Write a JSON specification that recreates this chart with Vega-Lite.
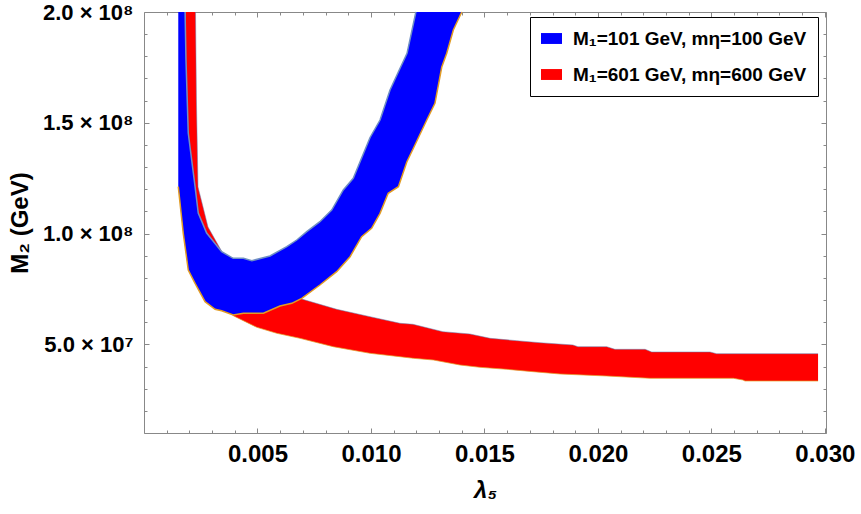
{
  "$schema": "https://vega.github.io/schema/vega-lite/v6.json",
  "width": 682,
  "height": 421,
  "autosize": {"type": "none"},
  "padding": {"left": 144, "top": 12, "right": 35, "bottom": 81},
  "background": "white",
  "config": {
    "view": {"stroke": "#888888", "strokeWidth": 1},
    "axis": {"grid": false, "domain": false, "tickColor": "#888888", "tickWidth": 1, "labelFont": "Liberation Sans", "labelFontWeight": "bold", "labelColor": "black", "titleFont": "Liberation Sans", "titleFontWeight": "bold", "titleColor": "black"}
  },
  "datasets": {
    "poly": [
      {"k": "b", "i": 1, "x": 0.00151, "y": 200000000},
      {"k": "b", "i": 2, "x": 0.00181, "y": 200000000},
      {"k": "b", "i": 3, "x": 0.00185, "y": 178340000},
      {"k": "b", "i": 4, "x": 0.00195, "y": 145390000},
      {"k": "b", "i": 5, "x": 0.00225, "y": 121160000},
      {"k": "b", "i": 6, "x": 0.00239, "y": 109290000},
      {"k": "b", "i": 7, "x": 0.00276, "y": 100260000},
      {"k": "b", "i": 8, "x": 0.00342, "y": 91820000},
      {"k": "b", "i": 9, "x": 0.00393, "y": 88840000},
      {"k": "b", "i": 10, "x": 0.00438, "y": 88840000},
      {"k": "b", "i": 11, "x": 0.00475, "y": 87760000},
      {"k": "b", "i": 12, "x": 0.00555, "y": 89880000},
      {"k": "b", "i": 13, "x": 0.00629, "y": 94080000},
      {"k": "b", "i": 14, "x": 0.00673, "y": 97100000},
      {"k": "b", "i": 15, "x": 0.00717, "y": 100850000},
      {"k": "b", "i": 16, "x": 0.00775, "y": 105360000},
      {"k": "b", "i": 17, "x": 0.00827, "y": 110640000},
      {"k": "b", "i": 18, "x": 0.00878, "y": 119670000},
      {"k": "b", "i": 19, "x": 0.00922, "y": 124950000},
      {"k": "b", "i": 20, "x": 0.00996, "y": 143360000},
      {"k": "b", "i": 21, "x": 0.0104, "y": 151260000},
      {"k": "b", "i": 22, "x": 0.01084, "y": 164800000},
      {"k": "b", "i": 23, "x": 0.01121, "y": 173060000},
      {"k": "b", "i": 24, "x": 0.01159, "y": 181360000},
      {"k": "b", "i": 25, "x": 0.01198, "y": 200000000},
      {"k": "b", "i": 26, "x": 0.014, "y": 200000000},
      {"k": "b", "i": 27, "x": 0.01363, "y": 191880000},
      {"k": "b", "i": 28, "x": 0.01334, "y": 181360000},
      {"k": "b", "i": 29, "x": 0.01312, "y": 175180000},
      {"k": "b", "i": 30, "x": 0.01282, "y": 158800000},
      {"k": "b", "i": 31, "x": 0.01246, "y": 151260000},
      {"k": "b", "i": 32, "x": 0.01187, "y": 138490000},
      {"k": "b", "i": 33, "x": 0.01158, "y": 132300000},
      {"k": "b", "i": 34, "x": 0.01121, "y": 121160000},
      {"k": "b", "i": 35, "x": 0.01076, "y": 118180000},
      {"k": "b", "i": 36, "x": 0.0104, "y": 109150000},
      {"k": "b", "i": 37, "x": 0.01003, "y": 102380000},
      {"k": "b", "i": 38, "x": 0.00959, "y": 98590000},
      {"k": "b", "i": 39, "x": 0.00908, "y": 89570000},
      {"k": "b", "i": 40, "x": 0.00849, "y": 82800000},
      {"k": "b", "i": 41, "x": 0.00775, "y": 76790000},
      {"k": "b", "i": 42, "x": 0.00695, "y": 70790000},
      {"k": "b", "i": 43, "x": 0.00651, "y": 68530000},
      {"k": "b", "i": 44, "x": 0.00599, "y": 67320000},
      {"k": "b", "i": 45, "x": 0.00526, "y": 64020000},
      {"k": "b", "i": 46, "x": 0.00438, "y": 64020000},
      {"k": "b", "i": 47, "x": 0.00393, "y": 63250000},
      {"k": "b", "i": 48, "x": 0.00342, "y": 65200000},
      {"k": "b", "i": 49, "x": 0.00313, "y": 65830000},
      {"k": "b", "i": 50, "x": 0.00269, "y": 69260000},
      {"k": "b", "i": 51, "x": 0.00225, "y": 77560000},
      {"k": "b", "i": 52, "x": 0.00195, "y": 83560000},
      {"k": "b", "i": 53, "x": 0.00173, "y": 100130000},
      {"k": "b", "i": 54, "x": 0.00151, "y": 121160000},
      {"k": "r", "i": 1, "x": 0.00183, "y": 200000000},
      {"k": "r", "i": 2, "x": 0.00227, "y": 200000000},
      {"k": "r", "i": 3, "x": 0.00231, "y": 160290000},
      {"k": "r", "i": 4, "x": 0.00238, "y": 121020000},
      {"k": "r", "i": 5, "x": 0.00282, "y": 102970000},
      {"k": "r", "i": 6, "x": 0.00344, "y": 91690000},
      {"k": "r", "i": 7, "x": 0.00423, "y": 85820000},
      {"k": "r", "i": 8, "x": 0.00555, "y": 76790000},
      {"k": "r", "i": 9, "x": 0.00687, "y": 70700000},
      {"k": "r", "i": 10, "x": 0.00849, "y": 65830000},
      {"k": "r", "i": 11, "x": 0.00996, "y": 62490000},
      {"k": "r", "i": 12, "x": 0.01128, "y": 59510000},
      {"k": "r", "i": 13, "x": 0.01185, "y": 59060000},
      {"k": "r", "i": 14, "x": 0.01317, "y": 55720000},
      {"k": "r", "i": 15, "x": 0.01436, "y": 54680000},
      {"k": "r", "i": 16, "x": 0.01525, "y": 52740000},
      {"k": "r", "i": 17, "x": 0.01642, "y": 51660000},
      {"k": "r", "i": 18, "x": 0.01745, "y": 50750000},
      {"k": "r", "i": 19, "x": 0.0189, "y": 49720000},
      {"k": "r", "i": 20, "x": 0.01912, "y": 48950000},
      {"k": "r", "i": 21, "x": 0.02039, "y": 48950000},
      {"k": "r", "i": 22, "x": 0.02075, "y": 47770000},
      {"k": "r", "i": 23, "x": 0.02208, "y": 47770000},
      {"k": "r", "i": 24, "x": 0.02237, "y": 46560000},
      {"k": "r", "i": 25, "x": 0.02494, "y": 46560000},
      {"k": "r", "i": 26, "x": 0.02523, "y": 45790000},
      {"k": "r", "i": 27, "x": 0.0297, "y": 45790000},
      {"k": "r", "i": 28, "x": 0.0297, "y": 33470000},
      {"k": "r", "i": 29, "x": 0.02648, "y": 33470000},
      {"k": "r", "i": 30, "x": 0.02639, "y": 33920000},
      {"k": "r", "i": 31, "x": 0.02597, "y": 34690000},
      {"k": "r", "i": 32, "x": 0.0223, "y": 34690000},
      {"k": "r", "i": 33, "x": 0.02039, "y": 35720000},
      {"k": "r", "i": 34, "x": 0.01833, "y": 36630000},
      {"k": "r", "i": 35, "x": 0.01715, "y": 37670000},
      {"k": "r", "i": 36, "x": 0.01598, "y": 38750000},
      {"k": "r", "i": 37, "x": 0.0148, "y": 39650000},
      {"k": "r", "i": 38, "x": 0.01392, "y": 40690000},
      {"k": "r", "i": 39, "x": 0.01275, "y": 42950000},
      {"k": "r", "i": 40, "x": 0.01187, "y": 43710000},
      {"k": "r", "i": 41, "x": 0.01128, "y": 44440000},
      {"k": "r", "i": 42, "x": 0.00996, "y": 45970000},
      {"k": "r", "i": 43, "x": 0.00834, "y": 48950000},
      {"k": "r", "i": 44, "x": 0.00687, "y": 52740000},
      {"k": "r", "i": 45, "x": 0.00585, "y": 55000000},
      {"k": "r", "i": 46, "x": 0.00497, "y": 57700000},
      {"k": "r", "i": 47, "x": 0.00393, "y": 62940000},
      {"k": "r", "i": 48, "x": 0.00313, "y": 68670000},
      {"k": "r", "i": 49, "x": 0.00247, "y": 75440000},
      {"k": "r", "i": 50, "x": 0.00212, "y": 85820000},
      {"k": "r", "i": 51, "x": 0.00189, "y": 106130000},
      {"k": "r", "i": 52, "x": 0.00185, "y": 137720000}
    ]
  },
  "data": {"name": "poly"},
  "resolve": {"axis": {"x": "independent", "y": "independent"}},
  "layer": [
    {
      "transform": [{"filter": "datum.k == 'r'"}],
      "mark": {"type": "line", "strokeWidth": 0, "strokeOpacity": 0, "fillOpacity": 1},
      "encoding": {
        "x": {"field": "x", "type": "quantitative", "scale": {"domain": [0, 0.03005], "nice": false, "zero": false},
          "axis": {"orient": "bottom", "values": [0.005, 0.01, 0.015, 0.02, 0.025, 0.03], "format": ".3f", "tickSize": -5, "labelPadding": 14, "labelFontSize": 24, "title": "λ₅", "titleFontSize": 24, "titleFontStyle": "italic", "titlePadding": 12}},
        "y": {"field": "y", "type": "quantitative", "scale": {"domain": [10000000, 200000000], "nice": false, "zero": false},
          "axis": {"orient": "left", "values": [50000000, 100000000, 150000000, 200000000], "labelExpr": "datum.value == 200000000 ? '2.0 × 10⁸' : datum.value == 150000000 ? '1.5 × 10⁸' : datum.value == 100000000 ? '1.0 × 10⁸' : '5.0 × 10⁷'", "tickSize": -5, "labelPadding": 16, "labelFontSize": 22, "title": "M₂ (GeV)", "titleFontSize": 24, "titlePadding": 10}},
        "order": {"field": "i", "type": "quantitative"},
        "fill": {"field": "k", "type": "nominal", "scale": {"domain": ["b", "r"], "range": ["#0000ff", "#ff0000"]},
          "legend": {"title": null, "orient": "none", "legendX": 386, "legendY": 5, "symbolType": "M-1,-0.52H1V0.52H-1Z", "symbolSize": 441, "symbolStrokeWidth": 0, "symbolOpacity": 1, "labelExpr": "datum.label == 'b' ? 'M₁=101 GeV, mη=100 GeV' : 'M₁=601 GeV, mη=600 GeV'", "labelFont": "Liberation Sans", "labelFontSize": 19, "labelFontWeight": "bold", "labelColor": "black", "labelOffset": 11, "labelLimit": 400, "rowPadding": 15, "padding": 11, "strokeColor": "black", "fillColor": "white"}}
      }
    },
    {
      "transform": [{"filter": "datum.k == 'r' && datum.i >= 2 && datum.i <= 27"}],
      "mark": {"type": "line", "stroke": "#5E81B5", "strokeWidth": 1, "opacity": 0.5},
      "encoding": {
        "x": {"field": "x", "type": "quantitative", "axis": {"orient": "top", "values": [0.005, 0.01, 0.015, 0.02, 0.025, 0.03], "labels": false, "tickSize": -5, "title": null}},
        "y": {"field": "y", "type": "quantitative", "axis": {"orient": "right", "values": [50000000, 100000000, 150000000, 200000000], "labels": false, "tickSize": -5, "title": null}},
        "order": {"field": "i", "type": "quantitative"}
      }
    },
    {
      "transform": [{"filter": "datum.k == 'r' && datum.i >= 28 && datum.i <= 47"}],
      "mark": {"type": "line", "stroke": "#E19C24", "strokeWidth": 1, "opacity": 0.7},
      "encoding": {
        "x": {"field": "x", "type": "quantitative", "axis": {"orient": "bottom", "values": [0.001, 0.002, 0.003, 0.004, 0.006, 0.007, 0.008, 0.009, 0.011, 0.012, 0.013, 0.014, 0.016, 0.017, 0.018, 0.019, 0.021, 0.022, 0.023, 0.024, 0.026, 0.027, 0.028, 0.029], "labels": false, "tickSize": -3, "title": null}},
        "y": {"field": "y", "type": "quantitative", "axis": {"orient": "left", "values": [10000000, 20000000, 30000000, 40000000, 60000000, 70000000, 80000000, 90000000, 110000000, 120000000, 130000000, 140000000, 160000000, 170000000, 180000000, 190000000], "labels": false, "tickSize": -3, "title": null}},
        "order": {"field": "i", "type": "quantitative"}
      }
    },
    {
      "transform": [{"filter": "datum.k == 'b'"}],
      "mark": {"type": "line", "strokeWidth": 0, "strokeOpacity": 0, "fillOpacity": 1},
      "encoding": {
        "x": {"field": "x", "type": "quantitative", "axis": {"orient": "top", "values": [0.001, 0.002, 0.003, 0.004, 0.006, 0.007, 0.008, 0.009, 0.011, 0.012, 0.013, 0.014, 0.016, 0.017, 0.018, 0.019, 0.021, 0.022, 0.023, 0.024, 0.026, 0.027, 0.028, 0.029], "labels": false, "tickSize": -3, "title": null}},
        "y": {"field": "y", "type": "quantitative", "axis": {"orient": "right", "values": [10000000, 20000000, 30000000, 40000000, 60000000, 70000000, 80000000, 90000000, 110000000, 120000000, 130000000, 140000000, 160000000, 170000000, 180000000, 190000000], "labels": false, "tickSize": -3, "title": null}},
        "order": {"field": "i", "type": "quantitative"},
        "fill": {"field": "k", "type": "nominal", "scale": {"domain": ["b", "r"], "range": ["#0000ff", "#ff0000"]},
          "legend": {"title": null, "orient": "none", "legendX": 386, "legendY": 5, "symbolType": "M-1,-0.52H1V0.52H-1Z", "symbolSize": 441, "symbolStrokeWidth": 0, "symbolOpacity": 1, "labelExpr": "datum.label == 'b' ? 'M₁=101 GeV, mη=100 GeV' : 'M₁=601 GeV, mη=600 GeV'", "labelFont": "Liberation Sans", "labelFontSize": 19, "labelFontWeight": "bold", "labelColor": "black", "labelOffset": 11, "labelLimit": 400, "rowPadding": 15, "padding": 11, "strokeColor": "black", "fillColor": "white"}}
      }
    },
    {
      "transform": [{"filter": "datum.k == 'b' && datum.i >= 2 && datum.i <= 25"}],
      "mark": {"type": "line", "stroke": "#6F8FC4", "strokeWidth": 1.5},
      "encoding": {
        "x": {"field": "x", "type": "quantitative", "axis": null},
        "y": {"field": "y", "type": "quantitative", "axis": null},
        "order": {"field": "i", "type": "quantitative"}
      }
    },
    {
      "transform": [{"filter": "datum.k == 'b' && datum.i >= 26 && datum.i <= 54"}],
      "mark": {"type": "line", "stroke": "#E19C24", "strokeWidth": 1.5},
      "encoding": {
        "x": {"field": "x", "type": "quantitative", "axis": null},
        "y": {"field": "y", "type": "quantitative", "axis": null},
        "order": {"field": "i", "type": "quantitative"}
      }
    }
  ]
}
